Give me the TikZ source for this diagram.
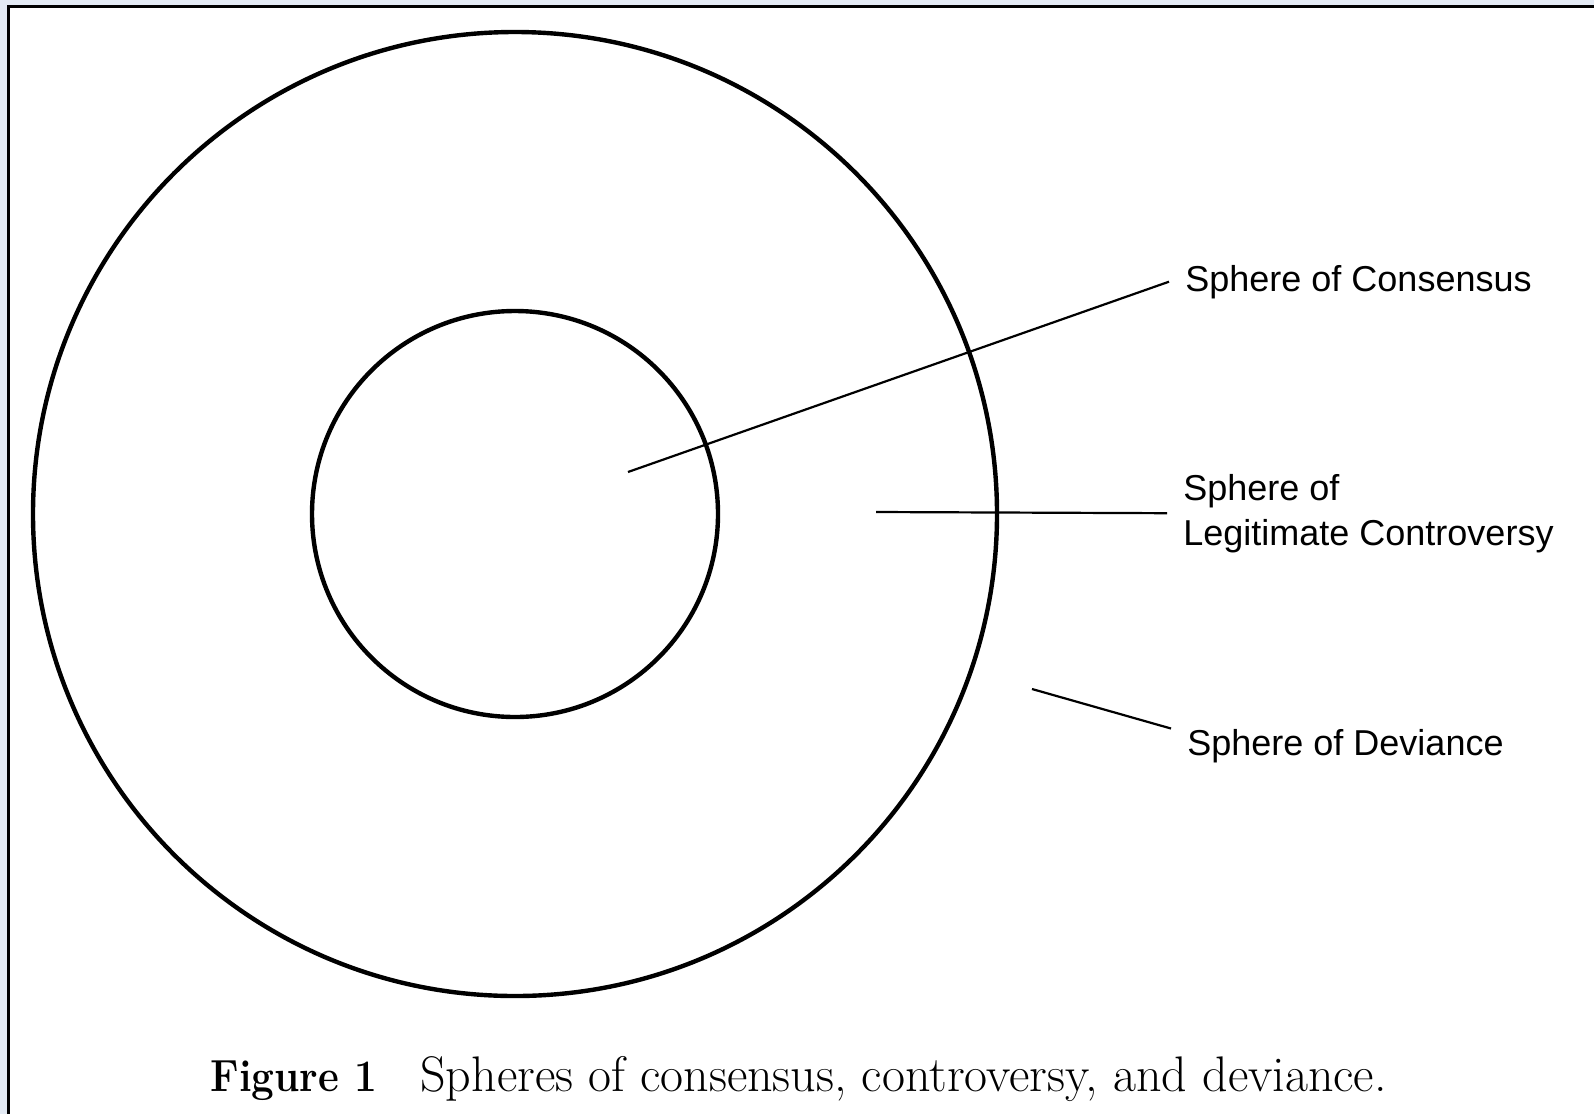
\documentclass[tikz,border=0pt]{standalone}
\usepackage{fontspec}
\usepackage{xcolor}
\usepackage{tikz}
\usetikzlibrary{positioning}
\newfontfamily\labelfont{Liberation Sans}
\definecolor{pagebg}{HTML}{E3EAF4}

\begin{document}
\begin{tikzpicture}[
    x=0.5pt, y=-0.5pt,
    % the two spheres
    ring/.style={draw, circle, line width=2.2pt, inner sep=0pt},
    % side labels
    sphlabel/.style={font=\labelfont\fontsize{18}{22.5}\selectfont,
      align=left, inner xsep=8pt, inner ysep=0pt},
    leader/.style={line width=1.1pt},
    captext/.style={anchor=base west, inner sep=0pt},
  ]
  \useasboundingbox (0,0) rectangle (1594,1114);
  \fill[pagebg] (0,0) rectangle (1594,1114);
  \fill[white] (7,5) rectangle (1594,1114);
  \draw[line width=1.4pt] (8.5,1114) -- (8.5,6.4) -- (1594,6.4);

  \node[ring, minimum size=482pt] (outer) at (515,514) {};
  \node[ring, minimum size=203pt] (inner) at (515,514) {};

  \node[sphlabel, anchor=base west] (cons) at (1169,291) {Sphere of Consensus};
  % base of a two-line node sits on its last line
  \node[sphlabel, anchor=base west] (legit) at (1167,545)
    {Sphere of\\Legitimate Controversy};
  \node[sphlabel, anchor=base west] (dev) at (1171,755) {Sphere of Deviance};

  \coordinate (consin) at (628,472);
  \coordinate (legitin) at (876,512);
  \coordinate (devin) at (1032,689);

  \draw[leader] (consin) -- (cons.west);
  \draw[leader] (legitin) -- (legit.west);
  \draw[leader] (devin) -- (dev.north west);

  \node[captext, font=\bfseries\fontsize{22.5}{26}\selectfont] (fignum)
    at (210,1091) {\scalebox{0.9}[1]{Figure 1}};
  \node[captext, font=\fontsize{25}{28}\selectfont] (caption)
    at (420,1091) {Spheres of consensus, controversy, and deviance.};
\end{tikzpicture}
\end{document}
